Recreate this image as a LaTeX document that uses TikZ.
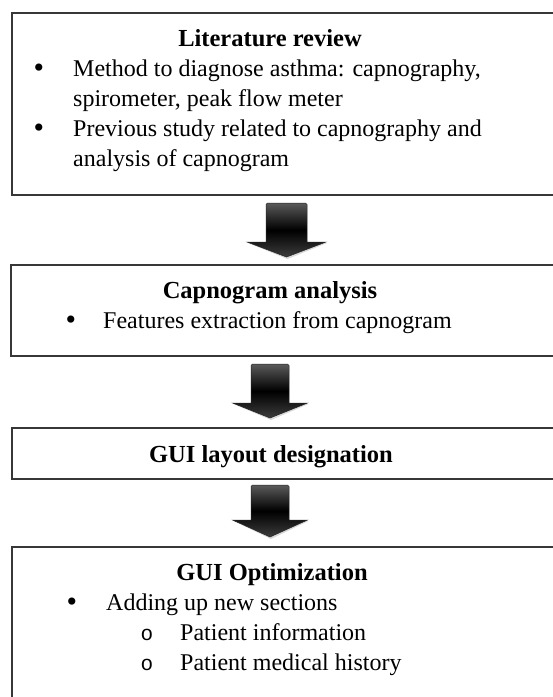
\documentclass[tikz,border=0pt]{standalone}
\usepackage{fontspec}
\setmainfont{Liberation Serif}
\setmonofont{Liberation Mono}
\definecolor{boxgray}{RGB}{55,55,55}
\definecolor{arrtop}{RGB}{90,90,90}
\definecolor{arrbot}{RGB}{60,60,60}
\tikzset{
  flowbox/.style={draw=boxgray, line width=1.8pt, rectangle, inner sep=0pt, anchor=north west, minimum width=620pt},
  ttl/.style={font=\fontsize{24.5}{30}\selectfont\bfseries, inner sep=0pt, anchor=base},
  txt/.style={font=\fontsize{24}{30}\selectfont, inner sep=0pt, anchor=base west},
  bul/.style={font=\fontsize{30}{30}\selectfont, inner sep=0pt, anchor=base, yshift=-1pt},
  subbul/.style={font=\fontsize{21}{30}\selectfont\ttfamily, inner sep=0pt, anchor=base},
  arrowshade/.style={top color=arrtop, bottom color=arrbot, middle color=black, draw=black!85, line width=0.5pt},
  arrowshadow/.style={fill=black!25, opacity=0.6}
}
% #1 name, #2 center x, #3 shaft top, #4 head top, #5 tip, #6 half shaft, #7 half head
\newcommand{\blockarrow}[7]{%
  \coordinate (#1) at (#2pt,-#3pt);
  \fill[arrowshadow] (#2pt-#7pt+1pt,-#4pt-1pt) -- (#2pt+1pt,-#5pt-2pt) -- (#2pt+#7pt+1pt,-#4pt-1pt) -- cycle;
  \path[arrowshade] (#2pt-#6pt,-#3pt-2pt) [rounded corners=1.5pt] -- (#2pt-#6pt,-#3pt) -- (#2pt+#6pt,-#3pt) [sharp corners] -- (#2pt+#6pt,-#4pt)
     -- (#2pt+#7pt,-#4pt) -- (#2pt,-#5pt) -- (#2pt-#7pt,-#4pt) -- (#2pt-#6pt,-#4pt) -- cycle;
}
\begin{document}
\begin{tikzpicture}
\useasboundingbox (0,0) rectangle (553pt,-697pt);
\clip (0,0) rectangle (553pt,-697pt);
\fill[white] (0,0) rectangle (553pt,-697pt);

% Box 1
\node[flowbox, minimum height=182pt] (b1) at (11pt,-12pt) {};
\node[ttl] (t1) at (270pt,-46pt) {Literature review};
\node[bul] (b1p1) at (39pt,-76pt) {•};
\node[txt] (b1l1) at (73pt,-76pt) {Method to diagnose asthma: capnography,};
\node[txt] (b1l2) at (73pt,-106pt) {spirometer, peak flow meter};
\node[bul] (b1p2) at (39pt,-136pt) {•};
\node[txt] (b1l3) at (73pt,-136pt) {Previous study related to capnography and};
\node[txt] (b1l4) at (73pt,-166pt) {analysis of capnogram};

% Box 2
\node[flowbox, minimum height=91pt] (b2) at (10pt,-264pt) {};
\node[ttl] (t2) at (270pt,-298pt) {Capnogram analysis};
\node[bul] (b2p1) at (71pt,-328pt) {•};
\node[txt] (b2l1) at (103pt,-328pt) {Features extraction from capnogram};

% Box 3
\node[flowbox, minimum height=51pt] (b3) at (11pt,-427pt) {};
\node[ttl] (t3) at (271pt,-462pt) {GUI layout designation};

% Box 4
\node[flowbox, minimum height=200pt] (b4) at (11pt,-546pt) {};
\node[ttl] (t4) at (272pt,-580pt) {GUI Optimization};
\node[bul] (b4p1) at (72pt,-610pt) {•};
\node[txt] (b4l1) at (106pt,-610pt) {Adding up new sections};
\node[subbul] (b4s1) at (147pt,-640pt) {o};
\node[txt] (b4l2) at (180pt,-640pt) {Patient information};
\node[subbul] (b4s2) at (147pt,-670pt) {o};
\node[txt] (b4l3) at (180pt,-670pt) {Patient medical history};

% Arrows
\blockarrow{a1}{286.5}{203}{242}{257}{20.5}{39.5}
\blockarrow{a2}{270}{364}{403}{418}{19}{37.5}
\blockarrow{a3}{270}{485}{520}{537}{19}{37.5}
\end{tikzpicture}
\end{document}
